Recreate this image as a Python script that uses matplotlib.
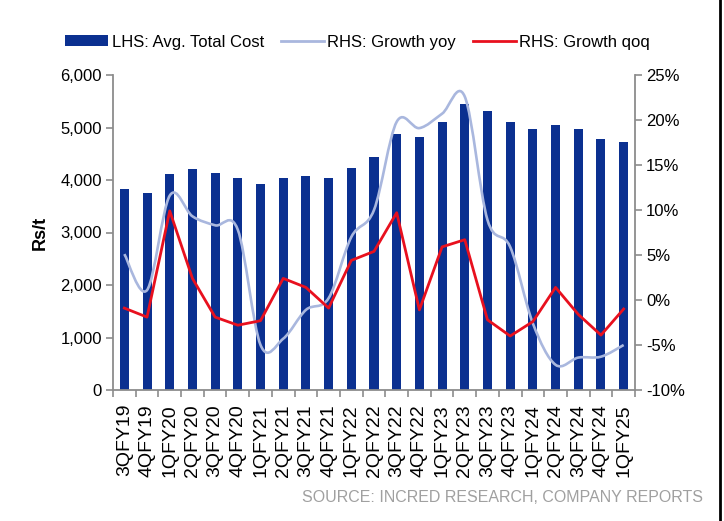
import numpy as np
import matplotlib
matplotlib.use("Agg")
import matplotlib.pyplot as plt
from matplotlib.path import Path
from matplotlib.patches import PathPatch, Patch
from matplotlib.lines import Line2D

plt.rcParams['font.family'] = ['Liberation Sans', 'DejaVu Sans']

# data
quarters = ['3QFY19', '4QFY19', '1QFY20', '2QFY20', '3QFY20', '4QFY20', '1QFY21',
            '2QFY21', '3QFY21', '4QFY21', '1QFY22', '2QFY22', '3QFY22', '4QFY22',
            '1QFY23', '2QFY23', '3QFY23', '4QFY23', '1QFY24', '2QFY24', '3QFY24',
            '4QFY24', '1QFY25']
avg_cost = [3820, 3750, 4120, 4215, 4140, 4030, 3930, 4030, 4085, 4040, 4220, 4445,
            4875, 4815, 5100, 5440, 5315, 5100, 4970, 5040, 4965, 4775, 4725]
growth_yoy = [5.1, 1.1, 11.6, 9.3, 8.3, 7.8, -5.0, -4.3, -1.1, 0.2, 7.0, 10.0,
              19.8, 19.1, 20.7, 22.6, 8.9, 5.9, -2.6, -7.2, -6.4, -6.3, -5.0]
growth_qoq = [-0.9, -1.9, 9.9, 2.4, -1.9, -2.8, -2.3, 2.4, 1.4, -0.9, 4.4, 5.4,
              9.7, -1.1, 5.9, 6.7, -2.2, -4.0, -2.4, 1.4, -1.6, -3.9, -1.0]

bar_col = '#0B3090'
yoy_col = '#A9B7DE'
qoq_col = '#E8101E'
spine_col = '#8C8C8C'

fig = plt.figure(figsize=(7.24, 5.21), dpi=100)
ax = fig.add_axes([113/724, 1-390/521, (635-113)/724, 315/521])
x = np.arange(len(quarters))

ax.bar(x, avg_cost, width=0.4, color=bar_col, zorder=2)
ax.set_xlim(-0.5, len(quarters)-0.5)
ax.set_ylim(0, 6000)
ax.set_yticks(range(0, 6001, 1000))
ax.set_yticklabels([f'{v:,}' for v in range(0, 6001, 1000)])
ax.set_xticks(x)
ax.set_xticklabels(quarters, rotation=90, fontsize=14)
ax.set_xticks(np.arange(-0.5, len(quarters), 1), minor=True)
ax.tick_params(axis='x', which='major', length=0, pad=10)
ax.tick_params(axis='x', which='minor', length=5, width=1.2, color=spine_col, direction='out')
ax.tick_params(axis='y', length=5, width=1.2, color=spine_col, labelsize=12, pad=3)
ax.set_ylabel('Rs/t', fontsize=13, fontweight='bold', labelpad=8)
for s in ['top', 'right']:
    ax.spines[s].set_visible(False)
for s in ['left', 'bottom']:
    ax.spines[s].set_color(spine_col)
    ax.spines[s].set_linewidth(1.3)

ax2 = ax.twinx()
ax2.set_ylim(-10, 25)
ax2.set_yticks(range(-10, 26, 5))
ax2.set_yticklabels([f'{v}%' for v in range(-10, 26, 5)])
ax2.tick_params(axis='y', length=5, width=1.2, color=spine_col, labelsize=12, pad=3)
for s in ['top', 'left', 'bottom']:
    ax2.spines[s].set_visible(False)
ax2.spines['right'].set_color(spine_col)
ax2.spines['right'].set_linewidth(1.3)

# smoothed yoy line (Bezier through the points)
verts = [(x[0], growth_yoy[0])]
codes = [Path.MOVETO]
n = len(x)
for i in range(n-1):
    a = max(i-1, 0)
    b = min(i+2, n-1)
    c1 = (x[i] + (x[i+1]-x[a])/6, growth_yoy[i] + (growth_yoy[i+1]-growth_yoy[a])/6)
    c2 = (x[i+1] - (x[b]-x[i])/6, growth_yoy[i+1] - (growth_yoy[b]-growth_yoy[i])/6)
    verts += [c1, c2, (x[i+1], growth_yoy[i+1])]
    codes += [Path.CURVE4]*3
ax2.add_patch(PathPatch(Path(verts, codes), facecolor='none', edgecolor=yoy_col, lw=1.9, zorder=3))

ax2.plot(x, growth_qoq, color=qoq_col, lw=2, zorder=4)

handles = [Patch(facecolor=bar_col, edgecolor='none'),
           Line2D([], [], color=yoy_col, lw=2),
           Line2D([], [], color=qoq_col, lw=2)]
labels = ['LHS: Avg. Total Cost', 'RHS: Growth yoy', 'RHS: Growth qoq']
fig.legend(handles, labels, loc='center left', bbox_to_anchor=(65/724, 1-42/521),
           ncol=3, frameon=False, fontsize=12, handlelength=2.6, handleheight=0.6,
           handletextpad=0.2, columnspacing=1.0, borderpad=0, borderaxespad=0)

fig.text(703/724, 1-497/521, 'SOURCE: INCRED RESEARCH, COMPANY REPORTS',
         ha='right', va='center', fontsize=11.5, color='#A0A0A0')

fig.add_artist(Line2D([719.5/724, 719.5/724], [0, 1], color='black', lw=2))

fig.savefig('out.png', dpi=100)
